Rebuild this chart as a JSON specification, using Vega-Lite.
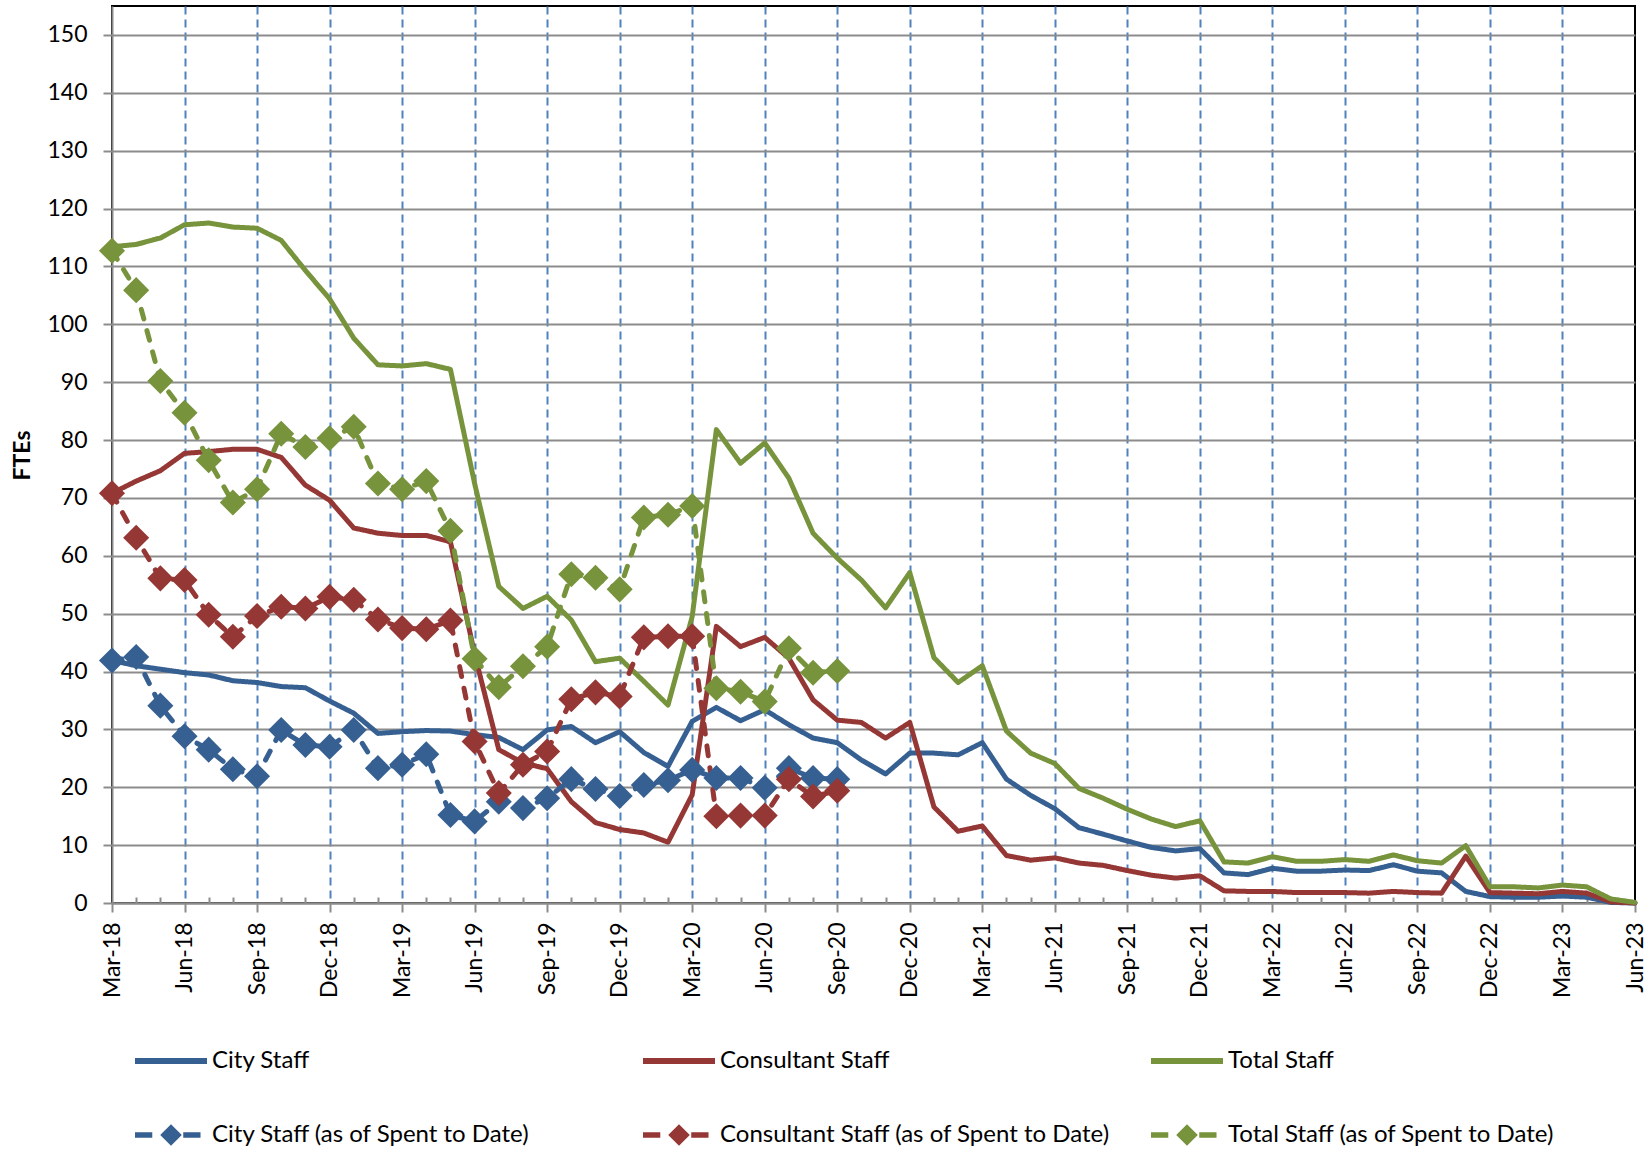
{
  "$schema": "https://vega.github.io/schema/vega-lite/v6.json",
  "width": 1523,
  "height": 897,
  "autosize": {"type": "none"},
  "padding": {"left": 112, "top": 6, "right": 17, "bottom": 247},
  "config": {
    "font": "Lato",
    "view": {"stroke": "black", "strokeWidth": 2},
    "axis": {"labelColor": "black", "titleColor": "black"}
  },
  "data": {"values": [
    {"m":"Mar-18","s":"City Staff","v":41.9},{"m":"Apr-18","s":"City Staff","v":41.0},{"m":"May-18","s":"City Staff","v":40.4},{"m":"Jun-18","s":"City Staff","v":39.8},{"m":"Jul-18","s":"City Staff","v":39.4},{"m":"Aug-18","s":"City Staff","v":38.4},{"m":"Sep-18","s":"City Staff","v":38.1},{"m":"Oct-18","s":"City Staff","v":37.4},{"m":"Nov-18","s":"City Staff","v":37.2},{"m":"Dec-18","s":"City Staff","v":34.9},
    {"m":"Jan-19","s":"City Staff","v":32.8},{"m":"Feb-19","s":"City Staff","v":29.3},{"m":"Mar-19","s":"City Staff","v":29.6},{"m":"Apr-19","s":"City Staff","v":29.8},{"m":"May-19","s":"City Staff","v":29.7},{"m":"Jun-19","s":"City Staff","v":29.1},{"m":"Jul-19","s":"City Staff","v":28.6},{"m":"Aug-19","s":"City Staff","v":26.5},{"m":"Sep-19","s":"City Staff","v":29.9},{"m":"Oct-19","s":"City Staff","v":30.5},{"m":"Nov-19","s":"City Staff","v":27.7},{"m":"Dec-19","s":"City Staff","v":29.6},
    {"m":"Jan-20","s":"City Staff","v":26.0},{"m":"Feb-20","s":"City Staff","v":23.6},{"m":"Mar-20","s":"City Staff","v":31.4},{"m":"Apr-20","s":"City Staff","v":33.8},{"m":"May-20","s":"City Staff","v":31.5},{"m":"Jun-20","s":"City Staff","v":33.4},{"m":"Jul-20","s":"City Staff","v":30.8},{"m":"Aug-20","s":"City Staff","v":28.5},{"m":"Sep-20","s":"City Staff","v":27.7},{"m":"Oct-20","s":"City Staff","v":24.7},{"m":"Nov-20","s":"City Staff","v":22.3},{"m":"Dec-20","s":"City Staff","v":25.9},
    {"m":"Jan-21","s":"City Staff","v":25.9},{"m":"Feb-21","s":"City Staff","v":25.6},{"m":"Mar-21","s":"City Staff","v":27.7},{"m":"Apr-21","s":"City Staff","v":21.4},{"m":"May-21","s":"City Staff","v":18.6},{"m":"Jun-21","s":"City Staff","v":16.3},{"m":"Jul-21","s":"City Staff","v":13.0},{"m":"Aug-21","s":"City Staff","v":11.9},{"m":"Sep-21","s":"City Staff","v":10.7},{"m":"Oct-21","s":"City Staff","v":9.6},{"m":"Nov-21","s":"City Staff","v":9.0},{"m":"Dec-21","s":"City Staff","v":9.4},
    {"m":"Jan-22","s":"City Staff","v":5.2},{"m":"Feb-22","s":"City Staff","v":4.9},{"m":"Mar-22","s":"City Staff","v":6.0},{"m":"Apr-22","s":"City Staff","v":5.5},{"m":"May-22","s":"City Staff","v":5.5},{"m":"Jun-22","s":"City Staff","v":5.7},{"m":"Jul-22","s":"City Staff","v":5.6},{"m":"Aug-22","s":"City Staff","v":6.6},{"m":"Sep-22","s":"City Staff","v":5.5},{"m":"Oct-22","s":"City Staff","v":5.2},{"m":"Nov-22","s":"City Staff","v":2.0},{"m":"Dec-22","s":"City Staff","v":1.1},
    {"m":"Jan-23","s":"City Staff","v":1.0},{"m":"Feb-23","s":"City Staff","v":1.0},{"m":"Mar-23","s":"City Staff","v":1.2},{"m":"Apr-23","s":"City Staff","v":1.0},{"m":"May-23","s":"City Staff","v":0.1},{"m":"Jun-23","s":"City Staff","v":0},

    {"m":"Mar-18","s":"Consultant Staff","v":70.8},{"m":"Apr-18","s":"Consultant Staff","v":72.9},{"m":"May-18","s":"Consultant Staff","v":74.7},{"m":"Jun-18","s":"Consultant Staff","v":77.7},{"m":"Jul-18","s":"Consultant Staff","v":78.0},{"m":"Aug-18","s":"Consultant Staff","v":78.4},{"m":"Sep-18","s":"Consultant Staff","v":78.4},{"m":"Oct-18","s":"Consultant Staff","v":77.0},{"m":"Nov-18","s":"Consultant Staff","v":72.2},{"m":"Dec-18","s":"Consultant Staff","v":69.6},
    {"m":"Jan-19","s":"Consultant Staff","v":64.8},{"m":"Feb-19","s":"Consultant Staff","v":63.9},{"m":"Mar-19","s":"Consultant Staff","v":63.5},{"m":"Apr-19","s":"Consultant Staff","v":63.5},{"m":"May-19","s":"Consultant Staff","v":62.4},{"m":"Jun-19","s":"Consultant Staff","v":43.0},{"m":"Jul-19","s":"Consultant Staff","v":26.5},{"m":"Aug-19","s":"Consultant Staff","v":24.2},{"m":"Sep-19","s":"Consultant Staff","v":23.2},{"m":"Oct-19","s":"Consultant Staff","v":17.5},{"m":"Nov-19","s":"Consultant Staff","v":13.9},{"m":"Dec-19","s":"Consultant Staff","v":12.7},
    {"m":"Jan-20","s":"Consultant Staff","v":12.1},{"m":"Feb-20","s":"Consultant Staff","v":10.5},{"m":"Mar-20","s":"Consultant Staff","v":18.7},{"m":"Apr-20","s":"Consultant Staff","v":47.8},{"m":"May-20","s":"Consultant Staff","v":44.3},{"m":"Jun-20","s":"Consultant Staff","v":45.9},{"m":"Jul-20","s":"Consultant Staff","v":42.3},{"m":"Aug-20","s":"Consultant Staff","v":35.1},{"m":"Sep-20","s":"Consultant Staff","v":31.6},{"m":"Oct-20","s":"Consultant Staff","v":31.2},{"m":"Nov-20","s":"Consultant Staff","v":28.5},{"m":"Dec-20","s":"Consultant Staff","v":31.2},
    {"m":"Jan-21","s":"Consultant Staff","v":16.6},{"m":"Feb-21","s":"Consultant Staff","v":12.4},{"m":"Mar-21","s":"Consultant Staff","v":13.3},{"m":"Apr-21","s":"Consultant Staff","v":8.2},{"m":"May-21","s":"Consultant Staff","v":7.4},{"m":"Jun-21","s":"Consultant Staff","v":7.8},{"m":"Jul-21","s":"Consultant Staff","v":6.9},{"m":"Aug-21","s":"Consultant Staff","v":6.5},{"m":"Sep-21","s":"Consultant Staff","v":5.6},{"m":"Oct-21","s":"Consultant Staff","v":4.8},{"m":"Nov-21","s":"Consultant Staff","v":4.3},{"m":"Dec-21","s":"Consultant Staff","v":4.7},
    {"m":"Jan-22","s":"Consultant Staff","v":2.1},{"m":"Feb-22","s":"Consultant Staff","v":2.0},{"m":"Mar-22","s":"Consultant Staff","v":2.0},{"m":"Apr-22","s":"Consultant Staff","v":1.8},{"m":"May-22","s":"Consultant Staff","v":1.8},{"m":"Jun-22","s":"Consultant Staff","v":1.8},{"m":"Jul-22","s":"Consultant Staff","v":1.7},{"m":"Aug-22","s":"Consultant Staff","v":2.0},{"m":"Sep-22","s":"Consultant Staff","v":1.8},{"m":"Oct-22","s":"Consultant Staff","v":1.7},{"m":"Nov-22","s":"Consultant Staff","v":8.1},{"m":"Dec-22","s":"Consultant Staff","v":1.8},
    {"m":"Jan-23","s":"Consultant Staff","v":1.7},{"m":"Feb-23","s":"Consultant Staff","v":1.6},{"m":"Mar-23","s":"Consultant Staff","v":2.0},{"m":"Apr-23","s":"Consultant Staff","v":1.7},{"m":"May-23","s":"Consultant Staff","v":0.2},{"m":"Jun-23","s":"Consultant Staff","v":0},

    {"m":"Mar-18","s":"Total Staff","v":113.4},{"m":"Apr-18","s":"Total Staff","v":113.8},{"m":"May-18","s":"Total Staff","v":114.9},{"m":"Jun-18","s":"Total Staff","v":117.2},{"m":"Jul-18","s":"Total Staff","v":117.5},{"m":"Aug-18","s":"Total Staff","v":116.8},{"m":"Sep-18","s":"Total Staff","v":116.6},{"m":"Oct-18","s":"Total Staff","v":114.5},{"m":"Nov-18","s":"Total Staff","v":109.3},{"m":"Dec-18","s":"Total Staff","v":104.4},
    {"m":"Jan-19","s":"Total Staff","v":97.6},{"m":"Feb-19","s":"Total Staff","v":93.0},{"m":"Mar-19","s":"Total Staff","v":92.8},{"m":"Apr-19","s":"Total Staff","v":93.2},{"m":"May-19","s":"Total Staff","v":92.2},{"m":"Jun-19","s":"Total Staff","v":72.5},{"m":"Jul-19","s":"Total Staff","v":54.7},{"m":"Aug-19","s":"Total Staff","v":50.9},{"m":"Sep-19","s":"Total Staff","v":53.0},{"m":"Oct-19","s":"Total Staff","v":48.9},{"m":"Nov-19","s":"Total Staff","v":41.7},{"m":"Dec-19","s":"Total Staff","v":42.3},
    {"m":"Jan-20","s":"Total Staff","v":38.3},{"m":"Feb-20","s":"Total Staff","v":34.2},{"m":"Mar-20","s":"Total Staff","v":49.5},{"m":"Apr-20","s":"Total Staff","v":81.8},{"m":"May-20","s":"Total Staff","v":76.0},{"m":"Jun-20","s":"Total Staff","v":79.5},{"m":"Jul-20","s":"Total Staff","v":73.4},{"m":"Aug-20","s":"Total Staff","v":63.9},{"m":"Sep-20","s":"Total Staff","v":59.6},{"m":"Oct-20","s":"Total Staff","v":55.8},{"m":"Nov-20","s":"Total Staff","v":51.0},{"m":"Dec-20","s":"Total Staff","v":57.1},
    {"m":"Jan-21","s":"Total Staff","v":42.4},{"m":"Feb-21","s":"Total Staff","v":38.1},{"m":"Mar-21","s":"Total Staff","v":41.0},{"m":"Apr-21","s":"Total Staff","v":29.7},{"m":"May-21","s":"Total Staff","v":25.9},{"m":"Jun-21","s":"Total Staff","v":24.1},{"m":"Jul-21","s":"Total Staff","v":19.8},{"m":"Aug-21","s":"Total Staff","v":18.1},{"m":"Sep-21","s":"Total Staff","v":16.2},{"m":"Oct-21","s":"Total Staff","v":14.5},{"m":"Nov-21","s":"Total Staff","v":13.2},{"m":"Dec-21","s":"Total Staff","v":14.2},
    {"m":"Jan-22","s":"Total Staff","v":7.1},{"m":"Feb-22","s":"Total Staff","v":6.9},{"m":"Mar-22","s":"Total Staff","v":8.0},{"m":"Apr-22","s":"Total Staff","v":7.2},{"m":"May-22","s":"Total Staff","v":7.2},{"m":"Jun-22","s":"Total Staff","v":7.5},{"m":"Jul-22","s":"Total Staff","v":7.2},{"m":"Aug-22","s":"Total Staff","v":8.3},{"m":"Sep-22","s":"Total Staff","v":7.3},{"m":"Oct-22","s":"Total Staff","v":6.9},{"m":"Nov-22","s":"Total Staff","v":9.9},{"m":"Dec-22","s":"Total Staff","v":2.8},
    {"m":"Jan-23","s":"Total Staff","v":2.8},{"m":"Feb-23","s":"Total Staff","v":2.6},{"m":"Mar-23","s":"Total Staff","v":3.1},{"m":"Apr-23","s":"Total Staff","v":2.8},{"m":"May-23","s":"Total Staff","v":0.7},{"m":"Jun-23","s":"Total Staff","v":0.1},

    {"m":"Mar-18","s":"City Staff (as of Spent to Date)","v":41.9},{"m":"Apr-18","s":"City Staff (as of Spent to Date)","v":42.5},{"m":"May-18","s":"City Staff (as of Spent to Date)","v":34.1},{"m":"Jun-18","s":"City Staff (as of Spent to Date)","v":28.8},{"m":"Jul-18","s":"City Staff (as of Spent to Date)","v":26.5},{"m":"Aug-18","s":"City Staff (as of Spent to Date)","v":23.1},{"m":"Sep-18","s":"City Staff (as of Spent to Date)","v":21.9},{"m":"Oct-18","s":"City Staff (as of Spent to Date)","v":29.9},{"m":"Nov-18","s":"City Staff (as of Spent to Date)","v":27.3},{"m":"Dec-18","s":"City Staff (as of Spent to Date)","v":27.0},
    {"m":"Jan-19","s":"City Staff (as of Spent to Date)","v":29.9},{"m":"Feb-19","s":"City Staff (as of Spent to Date)","v":23.3},{"m":"Mar-19","s":"City Staff (as of Spent to Date)","v":23.9},{"m":"Apr-19","s":"City Staff (as of Spent to Date)","v":25.7},{"m":"May-19","s":"City Staff (as of Spent to Date)","v":15.2},{"m":"Jun-19","s":"City Staff (as of Spent to Date)","v":14.1},{"m":"Jul-19","s":"City Staff (as of Spent to Date)","v":17.5},{"m":"Aug-19","s":"City Staff (as of Spent to Date)","v":16.4},{"m":"Sep-19","s":"City Staff (as of Spent to Date)","v":18.1},{"m":"Oct-19","s":"City Staff (as of Spent to Date)","v":21.4},{"m":"Nov-19","s":"City Staff (as of Spent to Date)","v":19.7},{"m":"Dec-19","s":"City Staff (as of Spent to Date)","v":18.5},
    {"m":"Jan-20","s":"City Staff (as of Spent to Date)","v":20.4},{"m":"Feb-20","s":"City Staff (as of Spent to Date)","v":21.2},{"m":"Mar-20","s":"City Staff (as of Spent to Date)","v":23.0},{"m":"Apr-20","s":"City Staff (as of Spent to Date)","v":21.6},{"m":"May-20","s":"City Staff (as of Spent to Date)","v":21.6},{"m":"Jun-20","s":"City Staff (as of Spent to Date)","v":19.9},{"m":"Jul-20","s":"City Staff (as of Spent to Date)","v":23.3},{"m":"Aug-20","s":"City Staff (as of Spent to Date)","v":21.6},{"m":"Sep-20","s":"City Staff (as of Spent to Date)","v":21.4},

    {"m":"Mar-18","s":"Consultant Staff (as of Spent to Date)","v":70.8},{"m":"Apr-18","s":"Consultant Staff (as of Spent to Date)","v":63.1},{"m":"May-18","s":"Consultant Staff (as of Spent to Date)","v":56.1},{"m":"Jun-18","s":"Consultant Staff (as of Spent to Date)","v":55.8},{"m":"Jul-18","s":"Consultant Staff (as of Spent to Date)","v":49.8},{"m":"Aug-18","s":"Consultant Staff (as of Spent to Date)","v":46.0},{"m":"Sep-18","s":"Consultant Staff (as of Spent to Date)","v":49.6},{"m":"Oct-18","s":"Consultant Staff (as of Spent to Date)","v":51.2},{"m":"Nov-18","s":"Consultant Staff (as of Spent to Date)","v":50.9},{"m":"Dec-18","s":"Consultant Staff (as of Spent to Date)","v":52.9},
    {"m":"Jan-19","s":"Consultant Staff (as of Spent to Date)","v":52.4},{"m":"Feb-19","s":"Consultant Staff (as of Spent to Date)","v":49.0},{"m":"Mar-19","s":"Consultant Staff (as of Spent to Date)","v":47.5},{"m":"Apr-19","s":"Consultant Staff (as of Spent to Date)","v":47.3},{"m":"May-19","s":"Consultant Staff (as of Spent to Date)","v":48.8},{"m":"Jun-19","s":"Consultant Staff (as of Spent to Date)","v":27.9},{"m":"Jul-19","s":"Consultant Staff (as of Spent to Date)","v":19.0},{"m":"Aug-19","s":"Consultant Staff (as of Spent to Date)","v":23.9},{"m":"Sep-19","s":"Consultant Staff (as of Spent to Date)","v":26.2},{"m":"Oct-19","s":"Consultant Staff (as of Spent to Date)","v":35.2},{"m":"Nov-19","s":"Consultant Staff (as of Spent to Date)","v":36.4},{"m":"Dec-19","s":"Consultant Staff (as of Spent to Date)","v":35.7},
    {"m":"Jan-20","s":"Consultant Staff (as of Spent to Date)","v":45.9},{"m":"Feb-20","s":"Consultant Staff (as of Spent to Date)","v":46.1},{"m":"Mar-20","s":"Consultant Staff (as of Spent to Date)","v":46.1},{"m":"Apr-20","s":"Consultant Staff (as of Spent to Date)","v":15.0},{"m":"May-20","s":"Consultant Staff (as of Spent to Date)","v":15.1},{"m":"Jun-20","s":"Consultant Staff (as of Spent to Date)","v":15.1},{"m":"Jul-20","s":"Consultant Staff (as of Spent to Date)","v":21.4},{"m":"Aug-20","s":"Consultant Staff (as of Spent to Date)","v":18.4},{"m":"Sep-20","s":"Consultant Staff (as of Spent to Date)","v":19.4},

    {"m":"Mar-18","s":"Total Staff (as of Spent to Date)","v":112.7},{"m":"Apr-18","s":"Total Staff (as of Spent to Date)","v":105.9},{"m":"May-18","s":"Total Staff (as of Spent to Date)","v":90.2},{"m":"Jun-18","s":"Total Staff (as of Spent to Date)","v":84.7},{"m":"Jul-18","s":"Total Staff (as of Spent to Date)","v":76.5},{"m":"Aug-18","s":"Total Staff (as of Spent to Date)","v":69.2},{"m":"Sep-18","s":"Total Staff (as of Spent to Date)","v":71.5},{"m":"Oct-18","s":"Total Staff (as of Spent to Date)","v":81.1},{"m":"Nov-18","s":"Total Staff (as of Spent to Date)","v":78.8},{"m":"Dec-18","s":"Total Staff (as of Spent to Date)","v":80.3},
    {"m":"Jan-19","s":"Total Staff (as of Spent to Date)","v":82.3},{"m":"Feb-19","s":"Total Staff (as of Spent to Date)","v":72.5},{"m":"Mar-19","s":"Total Staff (as of Spent to Date)","v":71.5},{"m":"Apr-19","s":"Total Staff (as of Spent to Date)","v":72.9},{"m":"May-19","s":"Total Staff (as of Spent to Date)","v":64.3},{"m":"Jun-19","s":"Total Staff (as of Spent to Date)","v":42.2},{"m":"Jul-19","s":"Total Staff (as of Spent to Date)","v":37.3},{"m":"Aug-19","s":"Total Staff (as of Spent to Date)","v":40.9},{"m":"Sep-19","s":"Total Staff (as of Spent to Date)","v":44.3},{"m":"Oct-19","s":"Total Staff (as of Spent to Date)","v":56.8},{"m":"Nov-19","s":"Total Staff (as of Spent to Date)","v":56.2},{"m":"Dec-19","s":"Total Staff (as of Spent to Date)","v":54.2},
    {"m":"Jan-20","s":"Total Staff (as of Spent to Date)","v":66.6},{"m":"Feb-20","s":"Total Staff (as of Spent to Date)","v":67.1},{"m":"Mar-20","s":"Total Staff (as of Spent to Date)","v":68.6},{"m":"Apr-20","s":"Total Staff (as of Spent to Date)","v":37.1},{"m":"May-20","s":"Total Staff (as of Spent to Date)","v":36.5},{"m":"Jun-20","s":"Total Staff (as of Spent to Date)","v":34.8},{"m":"Jul-20","s":"Total Staff (as of Spent to Date)","v":44.0},{"m":"Aug-20","s":"Total Staff (as of Spent to Date)","v":39.8},{"m":"Sep-20","s":"Total Staff (as of Spent to Date)","v":40.1}
  ]},
  "layer": [
    {
      "mark": {"type": "line", "strokeWidth": 5, "strokeJoin": "round", "strokeCap": "round"},
      "encoding": {
        "x": {
          "field": "m", "type": "ordinal",
          "scale": {"type": "point", "padding": 0, "domain": ["Mar-18","Apr-18","May-18","Jun-18","Jul-18","Aug-18","Sep-18","Oct-18","Nov-18","Dec-18","Jan-19","Feb-19","Mar-19","Apr-19","May-19","Jun-19","Jul-19","Aug-19","Sep-19","Oct-19","Nov-19","Dec-19","Jan-20","Feb-20","Mar-20","Apr-20","May-20","Jun-20","Jul-20","Aug-20","Sep-20","Oct-20","Nov-20","Dec-20","Jan-21","Feb-21","Mar-21","Apr-21","May-21","Jun-21","Jul-21","Aug-21","Sep-21","Oct-21","Nov-21","Dec-21","Jan-22","Feb-22","Mar-22","Apr-22","May-22","Jun-22","Jul-22","Aug-22","Sep-22","Oct-22","Nov-22","Dec-22","Jan-23","Feb-23","Mar-23","Apr-23","May-23","Jun-23"]},
          "axis": {
            "title": null,
            "labelExpr": "indexof(['Mar','Jun','Sep','Dec'], slice(datum.value,0,3)) >= 0 ? datum.value : ''",
            "labelAngle": -90,
            "labelFont": "Lato",
            "labelFontSize": 23,
            "labelPadding": 10,
            "labelOverlap": false,
            "labelBound": false,
            "labelFlush": false,
            "domainColor": "#8C8C8C",
            "domainWidth": 2,
            "tickColor": "#8C8C8C",
            "tickWidth": 2,
            "tickSize": {"condition": {"test": "indexof(['Mar','Jun','Sep','Dec'], slice(datum.value,0,3)) >= 0", "value": 9}, "value": -6},
            "grid": true,
            "gridColor": "#4F81BD",
            "gridWidth": 2,
            "gridDash": [8, 5],
            "gridOpacity": {"condition": {"test": "indexof(['Mar','Jun','Sep','Dec'], slice(datum.value,0,3)) >= 0 && datum.value != 'Mar-18' && datum.value != 'Jun-23'", "value": 1}, "value": 0}
          }
        },
        "y": {
          "field": "v", "type": "quantitative",
          "scale": {"domain": [0, 155], "nice": false},
          "axis": {
            "title": "FTEs",
            "titleFont": "Lato",
            "titleFontSize": 23,
            "titleFontWeight": "bold",
            "titleAngle": -90,
            "titleX": -90,
            "titleY": 449,
            "titleAlign": "center",
            "titleBaseline": "middle",
            "values": [0,10,20,30,40,50,60,70,80,90,100,110,120,130,140,150],
            "labelFont": "Lato",
            "labelFontSize": 23,
            "labelPadding": 16,
            "domainColor": "#8C8C8C",
            "domainWidth": 2,
            "tickColor": "#8C8C8C",
            "tickWidth": 2,
            "tickSize": 9,
            "grid": true,
            "gridColor": "#8C8C8C",
            "gridWidth": 2
          }
        },
        "color": {
          "field": "s", "type": "nominal",
          "scale": {
            "domain": ["City Staff","Consultant Staff","Total Staff","City Staff (as of Spent to Date)","Consultant Staff (as of Spent to Date)","Total Staff (as of Spent to Date)"],
            "range": ["#376092","#953735","#77933C","#376092","#953735","#77933C"]
          },
          "legend": {
            "title": null,
            "orient": "none",
            "direction": "horizontal",
            "legendX": 23,
            "legendY": 1019,
            "columns": 3,
            "gridAlign": "all",
            "columnPadding": 41,
            "rowPadding": 26,
            "padding": 0,
            "symbolSize": 5184,
            "labelOffset": 5,
            "labelLimit": 700,
            "labelFont": "Lato",
            "labelFontSize": 24,
            "labelColor": "black",
            "encode": {
              "symbols": {
                "update": {
                  "shape": {"signal": "indexof(datum.value, 'Spent') >= 0 ? 'M-1,-0.075H-0.52V0.075H-1Z M-0.3,0L0,-0.3L0.3,0L0,0.3Z M0.34,-0.075H0.82V0.075H0.34Z' : 'M-1,-0.08H1V0.08H-1Z'"},
                  "fill": {"scale": "color", "field": "value"},
                  "fillOpacity": {"value": 1},
                  "stroke": {"value": "transparent"},
                  "strokeWidth": {"value": 0},
                  "opacity": {"value": 1}
                }
              }
            }
          }
        },
        "strokeDash": {
          "field": "s", "type": "nominal",
          "scale": {
            "domain": ["City Staff","Consultant Staff","Total Staff","City Staff (as of Spent to Date)","Consultant Staff (as of Spent to Date)","Total Staff (as of Spent to Date)"],
            "range": [[1,0],[1,0],[1,0],[10,12],[10,12],[10,12]]
          },
          "legend": null
        }
      }
    },
    {
      "transform": [{"filter": "indexof(datum.s, 'Spent') >= 0"}],
      "mark": {"type": "point", "shape": "diamond", "filled": true, "size": 680, "opacity": 1, "strokeWidth": 0},
      "encoding": {
        "x": {"field": "m", "type": "ordinal"},
        "y": {"field": "v", "type": "quantitative"},
        "color": {"field": "s", "type": "nominal", "legend": null}
      }
    }
  ]
}
